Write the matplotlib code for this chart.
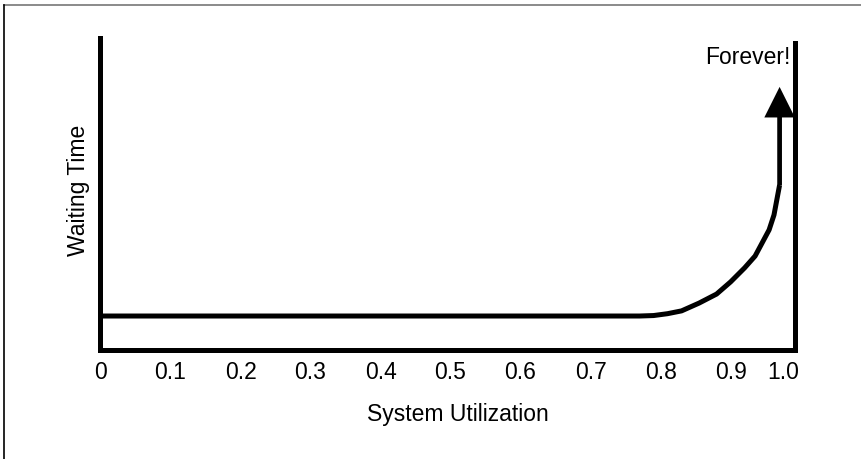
import matplotlib
matplotlib.use("Agg")
import matplotlib.pyplot as plt
from matplotlib.lines import Line2D

plt.rcParams['font.family'] = ['Liberation Sans', 'DejaVu Sans']

# Waiting time (arbitrary units) versus system utilization
utilization = [0.0, 0.77, 0.79, 0.81, 0.83, 0.855, 0.88, 0.90, 0.92, 0.935,
               0.945, 0.955, 0.962, 0.966, 0.97]
waiting = [0.1075, 0.1075, 0.109, 0.115, 0.124, 0.149, 0.178, 0.217, 0.262, 0.300,
           0.342, 0.384, 0.432, 0.480, 0.528]
arrow_top = 0.843

tick_values = [0.1, 0.2, 0.3, 0.4, 0.5, 0.6, 0.7, 0.8, 0.9]
label_positions = [0.0, 0.1, 0.2, 0.3, 0.4, 0.5, 0.6, 0.7, 0.8, 0.9, 0.975]
label_texts = ["0", "0.1", "0.2", "0.3", "0.4", "0.5", "0.6", "0.7", "0.8", "0.9", "1.0"]

W, H = 862, 459
FS = 16.5
fig = plt.figure(figsize=(W / 100, H / 100), dpi=100)
ax = fig.add_axes([100.5 / W, 1 - 349.5 / H, (795 - 100.5) / W, (349.5 - 38) / H])

lw = 3.6
ax.set_xlim(0, 0.992)
ax.set_ylim(0, 1)

for side in ("top", "right"):
    ax.spines[side].set_visible(False)
for side in ("left", "bottom"):
    ax.spines[side].set_linewidth(lw)

# Right wall at full utilization
ax.axvline(0.992, ymin=0, ymax=(349.5 - 43) / (349.5 - 38), color="black",
           lw=lw, solid_capstyle="projecting", clip_on=False)

ax.plot(utilization, waiting, color="black", lw=lw, solid_capstyle="butt",
        solid_joinstyle="round")

ax.annotate("", xy=(utilization[-1], arrow_top), xytext=(utilization[-1], waiting[-1]),
            arrowprops=dict(facecolor="black", edgecolor="black", width=3.4,
                            headwidth=22, headlength=22, shrink=0, lw=0))

ax.set_yticks([])
ax.set_xticks(label_positions)
ax.set_xticklabels(label_texts, fontsize=FS)
ax.tick_params(axis="x", which="major", length=0, pad=8)
ax.set_xticks(tick_values, minor=True)
ax.tick_params(axis="x", which="minor", direction="inout", length=16, width=1,
               color="#444444")

ax.set_xlabel("System Utilization", fontsize=FS)
ax.xaxis.set_label_coords((458 - 100.5) / (795 - 100.5), -(415 - 349.5) / (349.5 - 38))
ax.xaxis.label.set_va("center")
ax.set_ylabel("Waiting Time", fontsize=FS)
ax.yaxis.set_label_coords(-(100.5 - 79) / (795 - 100.5), (349.5 - 190) / (349.5 - 38))
ax.yaxis.label.set_va("center")

ax.text(0.994, (349.5 - 57) / (349.5 - 38), "Forever!", fontsize=FS,
        ha="right", va="center", transform=ax.transAxes)

# Frame lines along the top and left edges of the figure
fig.add_artist(Line2D([4 / W, 1], [1 - 5 / H, 1 - 5 / H], color="#777777", lw=1.2,
                      transform=fig.transFigure))
fig.add_artist(Line2D([4 / W, 4 / W], [0, 1 - 5 / H], color="black", lw=1.2,
                      transform=fig.transFigure))

fig.savefig("out.png", dpi=100)
